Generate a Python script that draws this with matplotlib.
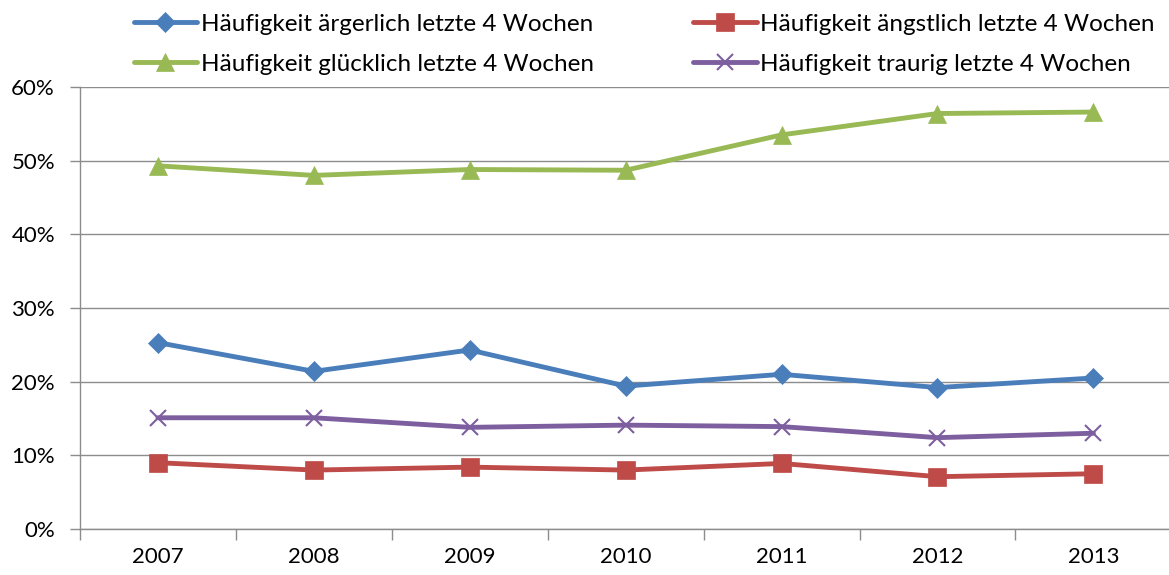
import numpy as np
import matplotlib.pyplot as plt

plt.rcParams['font.family'] = ['Lato', 'DejaVu Sans']

years = ['2007', '2008', '2009', '2010', '2011', '2012', '2013']
aergerlich = [25.3, 21.4, 24.3, 19.4, 21.0, 19.2, 20.5]
aengstlich = [9.0, 8.0, 8.4, 8.0, 8.9, 7.1, 7.5]
gluecklich = [49.3, 48.0, 48.8, 48.7, 53.5, 56.4, 56.6]
traurig = [15.1, 15.1, 13.8, 14.1, 13.9, 12.4, 13.0]

labels = ['Häufigkeit ärgerlich letzte 4 Wochen',
          'Häufigkeit ängstlich letzte 4 Wochen',
          'Häufigkeit glücklich letzte 4 Wochen',
          'Häufigkeit traurig letzte 4 Wochen']

fig = plt.figure(figsize=(11.69, 5.75), dpi=100)
ax = fig.add_axes([80/1169, 46/575, 1 - 80/1169 + 0.002, (529-87)/575])

x = np.arange(len(years))
data = [aergerlich, aengstlich, gluecklich, traurig]
colors = ['#4a7ebb', '#be4b48', '#98b954', '#7d5fa0']
markers = ['D', 's', '^', 'x']
msizes = [10, 13, 13, 12]

handles = []
for vals, c, m, ms, lab in zip(data, colors, markers, msizes, labels):
    v = np.array(vals) / 100
    h, = ax.plot(x, v, color=c, lw=3.5, marker=m, markersize=ms,
                 markeredgewidth=1.5 if m == 'x' else 0.5, markeredgecolor=c,
                 label=lab, solid_capstyle='round', zorder=3)
    handles.append(h)

ax.set_xlim(-0.5, len(years) - 0.5)
ax.set_ylim(0, 0.6)
ax.set_yticks(np.arange(0, 0.61, 0.1))
ax.set_yticklabels([f'{int(round(t*100))}%' for t in np.arange(0, 0.61, 0.1)])
ax.yaxis.grid(True, color='#8c8c8c', lw=1)
ax.set_axisbelow(True)

ax.set_xticks(x)
ax.set_xticklabels(years)
ax.set_xticks(np.arange(-0.5, len(years), 1), minor=True)
ax.tick_params(axis='x', which='major', length=0, pad=13, labelsize=16)
ax.tick_params(axis='x', which='minor', length=8, color='#8c8c8c', width=1)
ax.tick_params(axis='y', length=7, color='#8c8c8c', width=1, labelsize=16, pad=11)

for s in ['top', 'right']:
    ax.spines[s].set_visible(False)
for s in ['left', 'bottom']:
    ax.spines[s].set_color('#8c8c8c')
    ax.spines[s].set_linewidth(1)

# legend rows: ärgerlich | ängstlich, then glücklich | traurig (column-major fill)
order = [0, 2, 1, 3]
fig.legend(handles=[handles[i] for i in order], loc='upper left',
           bbox_to_anchor=(112/1169, 1.014), ncol=2,
           frameon=False, fontsize=17.5, handlelength=2.6, handletextpad=0.15,
           columnspacing=4.1, labelspacing=0.78)

fig.savefig('out.png', dpi=100)
